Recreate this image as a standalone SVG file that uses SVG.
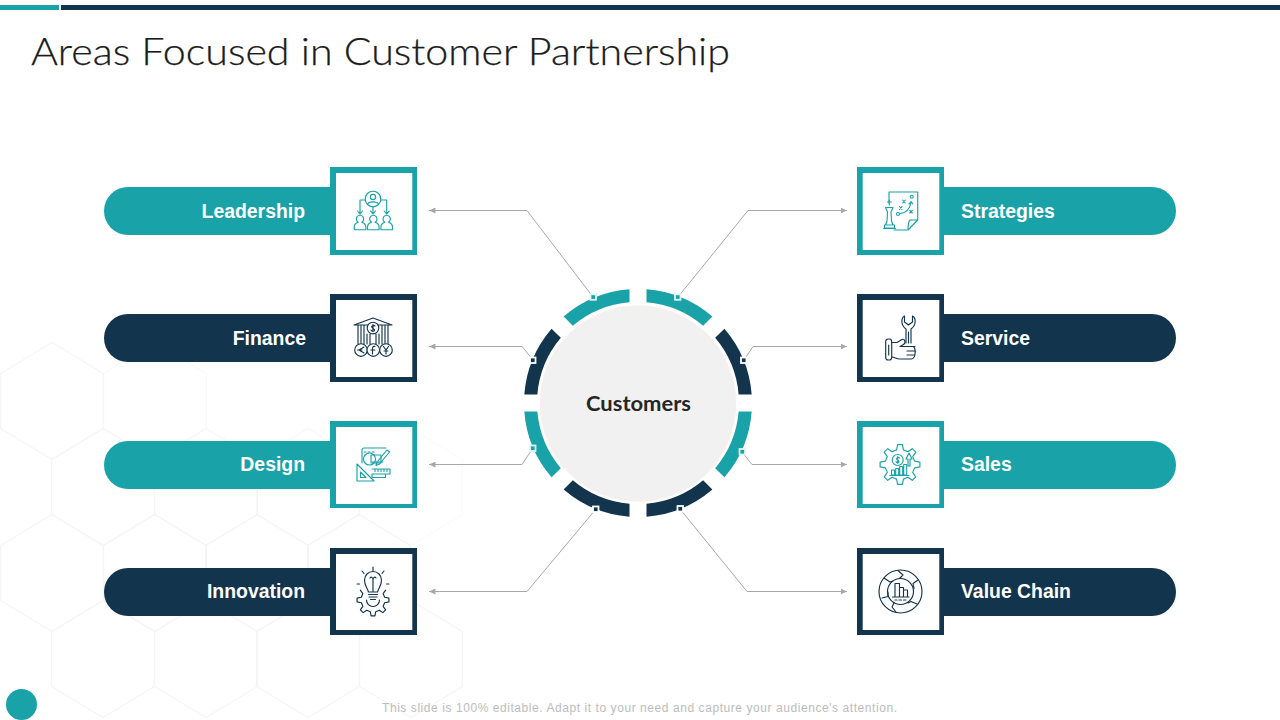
<svg xmlns="http://www.w3.org/2000/svg" xmlns:xlink="http://www.w3.org/1999/xlink" width="1280" height="720" viewBox="0 0 1280 720">
<style>
.teal{fill:#1aa2a9}.navy{fill:#12344d}.white{fill:#fff}
.lbl{font:bold 19.400px "Liberation Sans",Arial,sans-serif;fill:#fff}
.end{text-anchor:end}
.hex{fill:none;stroke:#f5f5f5;stroke-width:1.2}
.con{fill:none;stroke:#a8a8a8;stroke-width:1;marker-end:url(#arr)}
.ic{fill:none;stroke-width:1.15;stroke-linecap:round;stroke-linejoin:round}
.it{stroke:#1aa2a9}.in{stroke:#12344d}
.dt{fill:#1aa2a9;stroke:#dff3f4;stroke-width:1.8}.dn{fill:#12344d;stroke:#fff;stroke-width:1.8}
</style>
<defs>
<marker id="arr" markerUnits="userSpaceOnUse" markerWidth="7" markerHeight="6" refX="6.5" refY="3" orient="auto"><path d="M0 0L6.5 3L0 6Z" fill="#a8a8a8"/></marker>
<polygon id="hx" points="0,-58.5 51.4,-27.5 51.4,27.5 0,58.5 -51.4,27.5 -51.4,-27.5"/>
<polygon id="gear" points="-3.4,-14.6 -2.4,-19.9 2.4,-19.9 3.4,-14.6 7.9,-12.7 12.3,-15.8 15.8,-12.3 12.7,-7.9 14.6,-3.4 19.9,-2.4 19.9,2.4 14.6,3.4 12.7,7.9 15.8,12.3 12.3,15.8 7.9,12.7 3.4,14.6 2.4,19.9 -2.4,19.9 -3.4,14.6 -7.9,12.7 -12.3,15.8 -15.8,12.3 -12.7,7.9 -14.6,3.4 -19.9,2.4 -19.9,-2.4 -14.6,-3.4 -12.7,-7.9 -15.8,-12.3 -12.3,-15.8 -7.9,-12.7"/>
<path id="person" d="M-5.8 9.500V7C-5.800 4-3.500 2.500-1.800 2A3.700 3.700 0 1 1 1.800 2C3.500 2.500 5.800 4 5.800 7V9.500Z"/>
</defs>

<g id="background">
<g class="hex">
<use xlink:href="#hx" x="52" y="401"/><use xlink:href="#hx" x="155" y="401" opacity=".6"/>
<use xlink:href="#hx" x="103" y="487"/><use xlink:href="#hx" x="206" y="487"/><use xlink:href="#hx" x="308" y="487" opacity=".7"/><use xlink:href="#hx" x="411" y="487" opacity=".4"/>
<use xlink:href="#hx" x="52" y="573"/><use xlink:href="#hx" x="155" y="573"/><use xlink:href="#hx" x="257" y="573"/><use xlink:href="#hx" x="359" y="573"/>
<use xlink:href="#hx" x="103" y="659"/><use xlink:href="#hx" x="206" y="659"/><use xlink:href="#hx" x="308" y="659"/><use xlink:href="#hx" x="411" y="659"/>
</g>
<rect class="teal" x="0" y="5" width="59" height="5"/>
<rect class="navy" x="61" y="5" width="1219" height="5"/>
<circle class="teal" cx="21.500" cy="704.500" r="15.500"/>
</g>

<text id="title" x="31" y="65" textLength="699" lengthAdjust="spacingAndGlyphs" style="font:300 37px Lato,'Liberation Sans',sans-serif;fill:#1c1c1c;stroke:#1c1c1c;stroke-width:.25">Areas Focused in Customer Partnership</text>

<g id="connectors">
<path class="con" d="M593 297L527 210.500H429"/>
<path class="con" d="M533 360L522 346.500H429"/>
<path class="con" d="M533 448L522 464.500H429"/>
<path class="con" d="M596 509L527 591.500H429"/>
<path class="con" d="M678 297L748 210.500H847"/>
<path class="con" d="M744 360L753 346.500H847"/>
<path class="con" d="M742 452L752 464.500H847"/>
<path class="con" d="M680 509L747 591.500H847"/>
</g>

<g id="hub">
<circle cx="638" cy="403.500" r="97.500" fill="#f1f1f1" stroke="#f6f0ee" stroke-width="1.500"/>
<g transform="translate(638 403)">
<path class="teal" d="M-8.500-113.680A114 114 0 0 0-74.370-86.410L-65.160-77.180A101 101 0 0 1-8.500-100.640Z"/>
<path class="teal" d="M8.500-113.680A114 114 0 0 1 74.370-86.410L65.160-77.180A101 101 0 0 0 8.500-100.640Z"/>
<path class="navy" d="M-86.410-74.370A114 114 0 0 0-113.680-8.500L-100.640-8.500A101 101 0 0 1-77.180-65.160Z"/>
<path class="navy" d="M86.410-74.370A114 114 0 0 1 113.680-8.500L100.640-8.500A101 101 0 0 0 77.180-65.160Z"/>
<path class="teal" d="M-86.410 74.370A114 114 0 0 1-113.680 8.500L-100.640 8.500A101 101 0 0 0-77.180 65.160Z"/>
<path class="teal" d="M86.410 74.370A114 114 0 0 0 113.680 8.500L100.640 8.500A101 101 0 0 1 77.180 65.160Z"/>
<path class="navy" d="M-8.500 113.680A114 114 0 0 1-74.370 86.410L-65.160 77.180A101 101 0 0 0-8.500 100.640Z"/>
<path class="navy" d="M8.500 113.680A114 114 0 0 0 74.370 86.410L65.160 77.180A101 101 0 0 1 8.500 100.640Z"/>
</g>
<rect class="dt" x="590.500" y="294.300" width="5.500" height="5.500"/>
<rect class="dt" x="675" y="294.300" width="5.500" height="5.500"/>
<rect class="dn" x="530" y="357.500" width="5.500" height="5.500"/>
<rect class="dn" x="741" y="357.500" width="5.500" height="5.500"/>
<rect class="dt" x="530" y="445.500" width="5.500" height="5.500"/>
<rect class="dt" x="739.500" y="449" width="5.500" height="5.500"/>
<rect class="dn" x="593" y="506.500" width="5.500" height="5.500"/>
<rect class="dn" x="677.500" y="506" width="5.500" height="5.500"/>
<text x="638.500" y="411" text-anchor="middle" textLength="105" lengthAdjust="spacingAndGlyphs" style="font:bold 20px Lato,'Liberation Sans',sans-serif;fill:#262626">Customers</text>
</g>

<g id="node-leadership">
<rect class="teal" x="104" y="187" width="270" height="48" rx="24"/>
<rect class="teal" x="330" y="167" width="87" height="88"/><rect class="white" x="336" y="173" width="76.300" height="77"/>
<text class="lbl end" x="305" y="217.500">Leadership</text>
<g class="ic it">
<circle cx="373" cy="199" r="7.800"/><circle cx="373" cy="197" r="2.600"/><path d="M367.500 204.500C368.500 201 377.500 201 378.500 204.500"/>
<path d="M365 200H360V214M357.500 211L360 214L362.500 211M381 200H386.700V214M384.200 211L386.700 214L389.200 211M373 207V214M370.500 211L373 214L375.500 211"/>
<use xlink:href="#person" x="360" y="220.200"/><use xlink:href="#person" x="373.300" y="220.200"/><use xlink:href="#person" x="386.700" y="220.200"/>
</g>
</g>

<g id="node-finance">
<rect class="navy" x="104" y="314" width="270" height="48" rx="24"/>
<rect class="navy" x="330" y="294" width="87" height="88"/><rect class="white" x="336" y="300" width="76.300" height="77"/>
<text class="lbl end" x="306" y="344.500">Finance</text>
<g class="ic in">
<path d="M354 325L373 318L392 325ZM358 325V344M361 325V344M364 325V344M382 325V344M385 325V344M388 325V344M367 334V344M370 334V344M376 334V344M379 334V344"/>
<circle cx="373" cy="328" r="5.800" fill="#fff"/><path d="M375 326C373 324.500 371 326 372 327.500C373 329 375.300 329 374.500 330.500C373.500 332 371.500 331 371 330M373 324.500V331.500"/>
<circle cx="361" cy="350" r="6.300" fill="#fff"/><circle cx="373.300" cy="350" r="6.300" fill="#fff"/><circle cx="386" cy="350" r="6.300" fill="#fff"/>
<path d="M364 347L359 350L364 353M357.500 350H362M375 346.500C373 346 372.500 347 372.500 349V354M370.800 350H375M383.500 346.500L386 350L388.500 346.500M386 350V354M384 351H388"/>
</g>
</g>

<g id="node-design">
<rect class="teal" x="104" y="441" width="270" height="48" rx="24"/>
<rect class="teal" x="330" y="421" width="87" height="87"/><rect class="white" x="336" y="427" width="76.300" height="77"/>
<text class="lbl end" x="305" y="470.500">Design</text>
<g class="ic it">
<path d="M362 463V450Q362 448 364 448H386M364 452H366M368 452H370M372 452H374M383 462H372"/>
<circle cx="369.500" cy="459" r="6"/><rect x="371" y="455" width="10" height="8"/>
<path d="M377 462L387 450L389.500 452L379.500 464L376 465.500Z"/>
<path d="M357 464V481H374ZM360.500 472V477.500H366Z"/>
<path d="M372 469H390V474H372M375 469V471.500M378 469V471.500M381 469V471.500M384 469V471.500M387 469V471.500M372 474V477.500H385.500V474"/>
</g>
</g>

<g id="node-innovation">
<rect class="navy" x="104" y="568" width="270" height="48" rx="24"/>
<rect class="navy" x="330" y="548" width="87" height="87"/><rect class="white" x="336" y="554" width="76.300" height="76"/>
<text class="lbl end" x="305" y="597.500">Innovation</text>
<g class="ic in">
<path d="M368.500 592C367 587 364.500 585.500 364.500 580A8.500 8.500 0 0 1 381.500 580C381.500 585.500 379 587 377.500 592ZM370 578C371.500 576 372.500 578 373 579C373.500 578 374.500 576 376 578M373 579V592M368.500 594.500H377.500M369 597H377M370.500 599.500H375.500"/>
<path d="M373 567V570.500M362 571L364 573.500M384 571L382 573.500M357 584H359.500M386.500 584H389"/>
<g transform="translate(373 600) scale(.8)"><polyline points="-15.800,-12.300 -12.700,-7.900 -14.600,-3.400 -19.900,-2.400 -19.900,2.400 -14.600,3.400 -12.700,7.900 -15.800,12.300 -12.300,15.800 -7.900,12.700 -3.400,14.600 -2.400,19.900 2.400,19.900 3.400,14.600 7.900,12.700 12.300,15.800 15.800,12.300 12.700,7.900 14.600,3.400 19.900,2.400 19.900,-2.400 14.600,-3.400 12.700,-7.900 15.800,-12.300" vector-effect="non-scaling-stroke"/></g>
<path d="M366.500 600A6.500 6.500 0 0 0 379.500 600"/>
</g>
</g>

<g id="node-strategies">
<rect class="teal" x="900" y="187" width="276" height="48" rx="24"/>
<rect class="teal" x="857" y="167" width="87" height="88"/><rect class="white" x="862.700" y="173" width="76.600" height="77"/>
<text class="lbl" x="961" y="217.500">Strategies</text>
<g class="ic it">
<path d="M889 203V192H917.700V220L908 230H894M917.700 220H910Q908 222 908 230"/>
<path d="M889.300 200V205M887.300 202H891.300M885.500 207.500H893L891 212L891.500 221L893 225H885.500L887 221L887.500 212ZM884.500 228H894.500V225H884.500ZM883.500 228.500H895.500"/>
<path d="M902.700 200L905.200 203M905.200 200L902.700 203M899.500 206.500L902 209.500M902 206.500L899.500 209.500M909.800 210.500L912.300 213M912.300 210.500L909.800 213"/>
<circle cx="911.700" cy="196.700" r="1.500"/><circle cx="898" cy="214" r="1.500"/>
<path d="M900 213.500C906 213 910 208.500 911 202M909 204L911 201.500L912.800 204"/>
</g>
</g>

<g id="node-service">
<rect class="navy" x="900" y="314" width="276" height="48" rx="24"/>
<rect class="navy" x="857" y="294" width="87" height="88"/><rect class="white" x="862.700" y="300" width="76.600" height="77"/>
<text class="lbl" x="961" y="344.500">Service</text>
<g class="ic in">
<path d="M904.500 316V322L908.500 325L912.500 322V316C916 318 916.500 325 911 329V343M904.500 316C901 318 900.500 325 906 329V343M908.500 332V343"/>
<rect x="885.700" y="339" width="6" height="21" rx="2.500"/><path d="M888.700 345V355"/>
<path d="M891.700 342.500H897L902 339.500C905 338 906 343 903.500 344.500L900 346.500H912.500C916 346 916.500 358 911.500 359H900C896 359 895 357 891.700 357M906 346.500H915M907 351H915.500M907 355H914.500"/>
</g>
</g>

<g id="node-sales">
<rect class="teal" x="900" y="441" width="276" height="48" rx="24"/>
<rect class="teal" x="857" y="421" width="87" height="87"/><rect class="white" x="862.700" y="427" width="76.600" height="77"/>
<text class="lbl" x="961" y="470.500">Sales</text>
<g class="ic it">
<use xlink:href="#gear" x="900" y="464.500"/>
<circle cx="897.700" cy="460" r="5.500"/><path d="M899.500 458C898 456.800 896 457.800 896.800 459.500C897.500 460.500 899.300 460.500 899 462C898 463 896.300 462.500 896 461.500M897.700 456.500V463.500"/>
<path d="M909 453L912 459H910V466H908V459H906Z"/>
<path d="M891.500 475V470H894.500V475ZM895.700 475V468.500H898.700V475ZM899.700 475V466.500H902.700V475ZM903.700 475V464.500H906.700V475ZM890 475.500H909"/>
</g>
</g>

<g id="node-value-chain">
<rect class="navy" x="900" y="568" width="276" height="48" rx="24"/>
<rect class="navy" x="857" y="548" width="87" height="87"/><rect class="white" x="862.700" y="554" width="76.600" height="76"/>
<text class="lbl" x="961" y="597.500">Value Chain</text>
<g class="ic in">
<circle cx="900.500" cy="591.500" r="21.500"/><circle cx="900.500" cy="591.500" r="13"/>
<path d="M898 570.500L903 575L899.500 578.500M918 580L913 583.500L914 588.500M917 604L911 601.500L908 603M896 612L892 607L894 603M882 598L888 596.500L888 592M884 578L890 582L893 581"/>
<path d="M895 597V583.500H899.500V597M899.500 597V587.500H903.500V597M903.500 597V590H907.500V597M892.500 597H909M895 600H897M899 600H901.500M903.500 600H906"/>
</g>
</g>

<text id="footer" x="382" y="711.500" textLength="515" lengthAdjust="spacing" style="font:12px 'Liberation Sans',Arial,sans-serif;fill:#bcbcbc">This slide is 100% editable. Adapt it to your need and capture your audience's attention.</text>
</svg>
